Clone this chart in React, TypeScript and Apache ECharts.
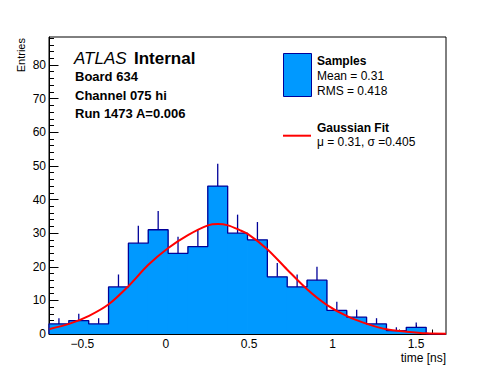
import React, { useEffect, useRef } from "react";
import * as echarts from "echarts";

// Histogram bin edges (time [ns]) and entries per bin
const binEdges = [-0.7, -0.581, -0.462, -0.343, -0.224, -0.105, 0.014, 0.133, 0.252, 0.371, 0.49, 0.609, 0.728, 0.847, 0.966, 1.085, 1.204, 1.323, 1.442, 1.561, 1.68];
const counts = [3, 4, 3, 14, 27, 31, 24, 26, 44, 30, 28, 17, 14, 16, 7, 5, 3, 1, 2, 0];
const errors = [1.7, 2.0, 1.7, 3.7, 5.2, 5.6, 4.9, 5.1, 6.6, 5.5, 5.3, 4.1, 3.7, 4.0, 2.6, 2.2, 1.7, 1.0, 1.4, 0];

// Gaussian fit curve
const fitX = [-0.696, -0.58, -0.46, -0.34, -0.226, -0.106, 0.013, 0.133, 0.253, 0.313, 0.373, 0.443, 0.493, 0.607, 0.727, 0.847, 0.967, 1.087, 1.206, 1.323, 1.443, 1.563, 1.68];
const fitY = [1.5, 3.0, 5.4, 8.9, 14.1, 20.5, 25.5, 29.4, 32.3, 32.7, 32.3, 30.9, 29.7, 25.3, 19.2, 13.3, 8.6, 5.3, 3.0, 1.4, 0.7, 0.2, 0.1];

// Axis ticks
const xMajor = [-0.5, 0, 0.5, 1, 1.5];
const xMinor = [-0.6, -0.4, -0.3, -0.2, -0.1, 0.1, 0.2, 0.3, 0.4, 0.6, 0.7, 0.8, 0.9, 1.1, 1.2, 1.3, 1.4, 1.6];
const yMajor = [0, 10, 20, 30, 40, 50, 60, 70, 80];
const yMinor = [2, 4, 6, 8, 12, 14, 16, 18, 22, 24, 26, 28, 32, 34, 36, 38, 42, 44, 46, 48, 52, 54, 56, 58, 62, 64, 66, 68, 72, 74, 76, 78, 82, 84, 86, 88];

const X_MIN = -0.7;
const X_MAX = 1.68;
const Y_MAX = 88.33;

const FONT = "'Liberation Sans', Arial, Helvetica, sans-serif";
const FILL = "#0099ff";
const EDGE = "#000099";

export default function App() {
  const ref = useRef<HTMLDivElement>(null);

  useEffect(() => {
    if (!ref.current) return;
    const chart = echarts.init(ref.current, null, { renderer: "svg" });

    const fillData = counts.map((c, i) => [binEdges[i], binEdges[i + 1], c]);
    const errData = counts.map((c, i) => [(binEdges[i] + binEdges[i + 1]) / 2, c, errors[i]]);
    const outline: number[][] = [[binEdges[0], 0]];
    counts.forEach((c, i) => {
      outline.push([binEdges[i], c]);
      outline.push([binEdges[i + 1], c]);
    });
    outline.push([binEdges[binEdges.length - 1], 0]);
    const fitData = fitX.map((x, i) => [x, fitY[i]]);

    const fmt = (v: number) => (v < 0 ? "\u2212" + String(-v) : String(v));

    const commonX = {
      type: "value" as const,
      min: X_MIN,
      max: X_MAX,
      position: "bottom" as const,
      splitLine: { show: false },
    };
    const commonY = {
      type: "value" as const,
      min: 0,
      max: Y_MAX,
      position: "left" as const,
      splitLine: { show: false },
    };

    const textEl = (txt: string, x: number, y: number, size: number, weight: string, style = "normal", align = "left") => ({
      type: "text",
      x,
      y,
      silent: true,
      style: {
        text: txt,
        fill: "#000",
        fontSize: size,
        fontWeight: weight,
        fontStyle: style,
        fontFamily: FONT,
        textAlign: align,
        textVerticalAlign: "middle",
      },
    });

    chart.setOption({
      animation: false,
      grid: {
        left: 49,
        top: 37,
        width: 397,
        height: 297,
        show: true,
        borderColor: "#000",
        borderWidth: 1,
        backgroundColor: "transparent",
      },
      xAxis: [
        {
          ...commonX,
          axisLine: { show: true, onZero: false, lineStyle: { color: "#000", width: 1 } },
          axisTick: { show: true, inside: true, length: 9, customValues: xMajor, lineStyle: { color: "#000" } },
          axisLabel: {
            show: true,
            customValues: xMajor,
            formatter: fmt,
            color: "#000",
            fontSize: 12,
            fontFamily: FONT,
            margin: 4,
          },
        },
        {
          ...commonX,
          axisLine: { show: false, onZero: false },
          axisTick: { show: true, inside: true, length: 4.5, customValues: xMinor, lineStyle: { color: "#000" } },
          axisLabel: { show: false },
        },
      ],
      yAxis: [
        {
          ...commonY,
          axisLine: { show: true, onZero: false, lineStyle: { color: "#000", width: 1 } },
          axisTick: { show: true, inside: true, length: 9.5, customValues: yMajor, lineStyle: { color: "#000" } },
          axisLabel: {
            show: true,
            customValues: yMajor,
            color: "#000",
            fontSize: 12,
            fontFamily: FONT,
            margin: 3,
          },
        },
        {
          ...commonY,
          axisLine: { show: false, onZero: false },
          axisTick: { show: true, inside: true, length: 5, customValues: yMinor, lineStyle: { color: "#000" } },
          axisLabel: { show: false },
        },
      ],
      series: [
        {
          type: "custom",
          name: "fill",
          xAxisIndex: 0,
          yAxisIndex: 0,
          clip: true,
          encode: { x: [0, 1], y: 2 },
          data: fillData,
          renderItem: (params: any, api: any) => {
            const p0 = api.coord([api.value(0), api.value(2)]);
            const p1 = api.coord([api.value(1), 0]);
            return {
              type: "rect",
              shape: { x: p0[0] - 0.4, y: p0[1], width: p1[0] - p0[0] + 0.8, height: p1[1] - p0[1] },
              style: { fill: FILL, stroke: null },
            };
          },
          z: 1,
        },
        {
          type: "line",
          name: "outline",
          xAxisIndex: 0,
          yAxisIndex: 0,
          data: outline,
          symbol: "none",
          clip: true,
          lineStyle: { color: EDGE, width: 1.3 },
          z: 2,
        },
        {
          type: "custom",
          name: "errors",
          xAxisIndex: 0,
          yAxisIndex: 0,
          clip: true,
          encode: { x: 0, y: [1, 2] },
          data: errData,
          renderItem: (params: any, api: any) => {
            const e = api.value(2);
            if (!e) return null;
            const a = api.coord([api.value(0), api.value(1)]);
            const b = api.coord([api.value(0), api.value(1) + e]);
            return {
              type: "line",
              shape: { x1: a[0], y1: a[1], x2: b[0], y2: b[1] },
              style: { stroke: EDGE, lineWidth: 1.3 },
            };
          },
          z: 3,
        },
        {
          type: "line",
          name: "Gaussian Fit",
          xAxisIndex: 0,
          yAxisIndex: 0,
          data: fitData,
          smooth: 0.3,
          symbol: "none",
          clip: true,
          lineStyle: { color: "#ff0000", width: 2 },
          z: 4,
        },
      ],
      graphic: [
        textEl("ATLAS", 74, 58, 17, "normal", "italic"),
        textEl("Internal", 134, 58, 17, "bold"),
        textEl("Board 634", 75, 76.8, 13, "bold"),
        textEl("Channel 075 hi", 75, 95.2, 13, "bold"),
        textEl("Run 1473 A=0.006", 75, 113.6, 13, "bold"),
        {
          type: "rect",
          silent: true,
          shape: { x: 283.5, y: 53.5, width: 28, height: 43 },
          style: { fill: FILL, stroke: EDGE, lineWidth: 1 },
        },
        textEl("Samples", 317, 61, 12, "bold"),
        textEl("Mean = 0.31", 317, 76.4, 12, "normal"),
        textEl("RMS = 0.418", 317, 90.7, 12, "normal"),
        {
          type: "line",
          silent: true,
          shape: { x1: 283, y1: 135.7, x2: 311, y2: 135.7 },
          style: { stroke: "#ff0000", lineWidth: 2 },
        },
        textEl("Gaussian Fit", 317, 127.8, 12, "bold"),
        textEl("\u03bc = 0.31, \u03c3 =0.405", 317, 142.4, 12, "normal"),
        textEl("time [ns]", 446, 358, 12, "normal", "normal", "right"),
        {
          type: "text",
          x: 20.5,
          y: 38,
          rotation: Math.PI / 2,
          silent: true,
          style: {
            text: "Entries",
            fill: "#000",
            fontSize: 11,
            fontFamily: FONT,
            textAlign: "right",
            textVerticalAlign: "middle",
          },
        },
      ],
    });

    return () => chart.dispose();
  }, []);

  return (
    <div
      ref={ref}
      style={{ position: "absolute", left: 0, top: 0, width: 496, height: 372, background: "#fff" }}
    />
  );
}
